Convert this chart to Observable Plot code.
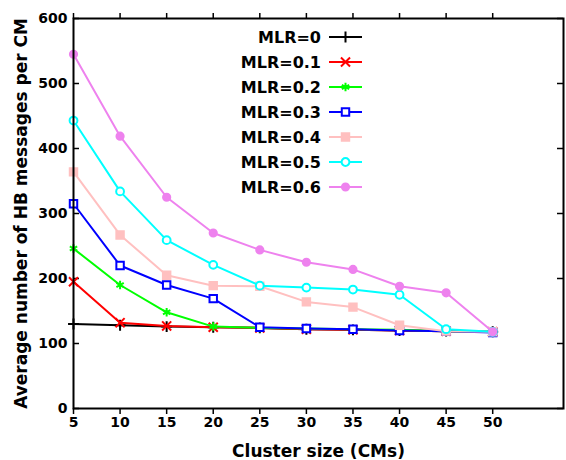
<!DOCTYPE html>
<html>
<head>
<meta charset="utf-8">
<script src="https://cdn.jsdelivr.net/npm/d3@7"></script>
<script src="https://cdn.jsdelivr.net/npm/@observablehq/plot@0.6"></script>
<style>
  html, body { margin: 0; padding: 0; background: #fff; }
  #wrap { position: relative; width: 566px; height: 460px; }
  #legend { position: absolute; left: 0; top: 0; pointer-events: none; }
</style>
</head>
<body>
<div id="wrap"></div>
<script>
// ---- data ----
const clusterSizes = [5, 10, 15, 20, 25, 30, 35, 40, 45, 50];
const mlr0  = [130, 128, 126, 125, 124, 122, 121, 120, 119, 118];
const mlr01 = [195, 132, 127, 125, 124, 122, 121, 120, 119, 118];
const mlr02 = [246, 190, 148, 126, 124, 123, 122, 121, 119, 118];
const mlr03 = [315, 220, 190, 169, 125, 123, 122, 120, 119, 117];
const mlr04 = [364, 267, 205, 189, 188, 164, 156, 128, 119, 118];
const mlr05 = [443, 334, 259, 221, 189, 186, 183, 175, 122, 118];
const mlr06 = [545, 419, 325, 270, 244, 225, 214, 188, 178, 118];
const seriesNames = ["MLR=0", "MLR=0.1", "MLR=0.2", "MLR=0.3", "MLR=0.4", "MLR=0.5", "MLR=0.6"];
const seriesValues = [mlr0, mlr01, mlr02, mlr03, mlr04, mlr05, mlr06];
const xTicks = [5, 10, 15, 20, 25, 30, 35, 40, 45, 50];
const yTicks = [0, 100, 200, 300, 400, 500, 600];

// ---- styles ----
const colors = ["#000000", "#ff0000", "#00ff00", "#0000ff", "#ffc0c0", "#00ffff", "#ee82ee"];
const symbols = ["plus", "times", "asterisk", "square", "square", "circle", "circle"];
const fills = ["none", "none", "none", "white", null, "white", null];
const radii = [3.6, 4.2, 4, 4.2, 4.2, 3.9, 3.6];
const d3symbols = {plus: d3.symbolPlus, times: d3.symbolTimes, asterisk: d3.symbolAsterisk, square: d3.symbolSquare, circle: d3.symbolCircle};

const W = 566, H = 460, mL = 73, mT = 18, mR = 3, mB = 52;
const frameW = W - mL - mR;

const marks = [];
seriesNames.forEach((name, i) => {
  const rows = clusterSizes.map((x, j) => ({x, y: seriesValues[i][j], series: name}));
  marks.push(Plot.line(rows, {x: "x", y: "y", stroke: colors[i], strokeWidth: 2}));
  marks.push(Plot.dot(rows, {
    x: "x", y: "y", symbol: symbols[i], r: radii[i],
    stroke: colors[i], strokeWidth: 2,
    fill: fills[i] === null ? colors[i] : fills[i]
  }));
});

const chart = Plot.plot({
  width: W, height: H,
  marginLeft: mL, marginTop: mT, marginRight: mR, marginBottom: mB,
  style: {fontFamily: "DejaVu Sans", fontWeight: "bold", fontSize: "14px", color: "#000", background: "#fff"},
  x: {domain: [5, 57.6], axis: null},
  y: {domain: [0, 600], axis: null},
  marks: [
    Plot.axisX({anchor: "bottom", ticks: xTicks, tickSize: 6, tickPadding: 3, strokeWidth: 1.5, label: null}),
    Plot.axisX({anchor: "top", ticks: xTicks, tickSize: 6, tickFormat: () => "", strokeWidth: 1.5, label: null}),
    Plot.axisX({anchor: "bottom", ticks: [], label: "Cluster size (CMs)", labelAnchor: "center", labelArrow: "none", labelOffset: 48, fontSize: 17}),
    Plot.axisY({anchor: "left", ticks: yTicks, tickSize: 0, tickPadding: 6, label: null}),
    Plot.axisY({anchor: "left", ticks: [], label: "Average number of HB messages per CM", labelAnchor: "center", labelArrow: "none", labelOffset: 59, fontSize: 17}),
    Plot.tickY(yTicks, {y: d => d, insetRight: frameW - 6, strokeWidth: 1.5}),
    Plot.tickY(yTicks, {y: d => d, insetLeft: frameW - 6, strokeWidth: 1.5}),
    ...marks,
    Plot.frame({stroke: "#000", strokeWidth: 2})
  ]
});
document.getElementById("wrap").appendChild(chart);

// ---- legend (overlay, drawn with d3) ----
const leg = d3.select("#wrap").append("svg")
  .attr("id", "legend").attr("width", W).attr("height", H);
seriesNames.forEach((name, i) => {
  const cy = 37 + i * 25;
  const g = leg.append("g");
  g.append("text").text(name)
    .attr("x", 321).attr("y", cy).attr("dy", "0.36em")
    .attr("text-anchor", "end")
    .style("font-family", "DejaVu Sans").style("font-weight", "bold").style("font-size", "16px");
  g.append("line").attr("x1", 329).attr("x2", 362).attr("y1", cy).attr("y2", cy)
    .attr("stroke", colors[i]).attr("stroke-width", 2);
  const r = radii[i];
  g.append("path")
    .attr("d", d3.symbol(d3symbols[symbols[i]], Math.PI * r * r)())
    .attr("transform", `translate(345.5,${cy})`)
    .attr("stroke", colors[i]).attr("stroke-width", 2)
    .attr("fill", fills[i] === null ? colors[i] : fills[i]);
});
</script>
</body>
</html>
